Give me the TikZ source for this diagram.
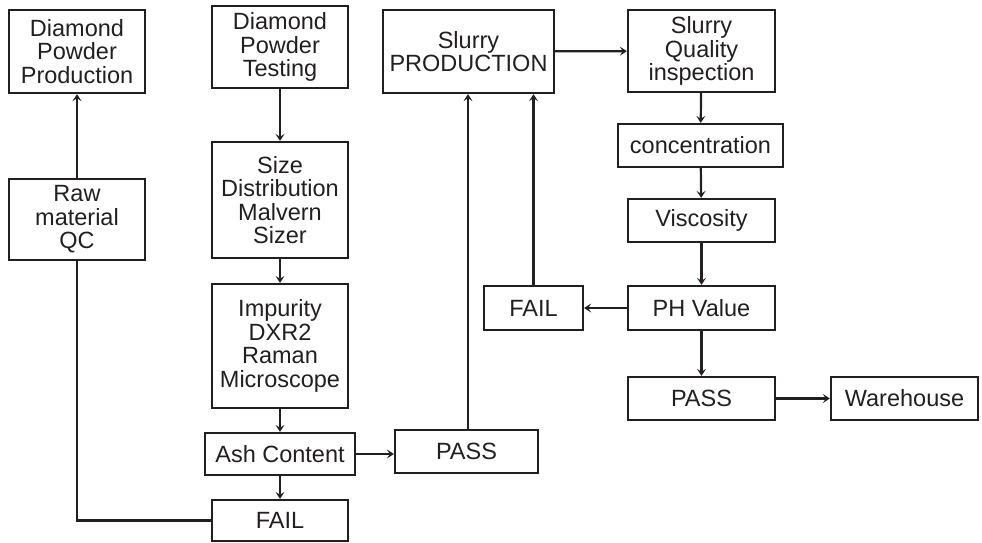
\documentclass[tikz,border=0pt]{standalone}
\usepackage{fontspec}
\setmainfont{Liberation Sans}
\usetikzlibrary{arrows.meta}
\definecolor{ink}{HTML}{231F20}
\begin{document}
\begin{tikzpicture}[x=1pt,y=-1pt,
  box/.style={draw=ink,line width=2.3pt,inner sep=0pt,align=center,text=ink,
    font=\fontsize{23.5}{23.5}\selectfont},
  conn/.style={draw=ink,line width=2.2pt},
  arr/.style={conn,-{Stealth[length=7pt,width=9pt,inset=3pt]}}]
\useasboundingbox (0,0) rectangle (982,542);
\newcommand\bx[6]{\node[box,minimum width={#4-#2-2},minimum height={#5-#3-2}] (#1) at ({(#2+#4)/2},{(#3+#5)/2}) {#6};}
\bx{dpp}{8}{9}{146}{94}{Diamond\\Powder\\Production}
\bx{raw}{8}{178}{146}{261}{Raw\\material\\QC}
\bx{dpt}{211}{5}{349}{89}{Diamond\\Powder\\Testing}
\bx{size}{211}{141}{349}{259}{Size\\Distribution\\Malvern\\Sizer}
\bx{imp}{211}{283}{349}{409}{Impurity\\DXR2\\Raman\\Microscope}
\bx{ash}{204}{432}{356}{476}{Ash Content}
\bx{failA}{211}{499}{349}{542}{FAIL}
\bx{passA}{394}{429}{539}{474}{PASS}
\bx{sp}{382}{9}{555}{94}{Slurry\\PRODUCTION}
\bx{sqi}{627}{9}{776}{93}{Slurry\\Quality\\inspection}
\bx{conc}{617}{123}{784}{168}{concentration}
\bx{visc}{627}{198}{776}{243}{Viscosity}
\bx{ph}{627}{285}{776}{331}{PH Value}
\bx{failB}{483}{285}{584}{331}{FAIL}
\bx{passB}{627}{376}{776}{421}{PASS}
\bx{wh}{830}{376}{979}{421}{Warehouse}
\draw[arr] (raw) -- (dpp);
\draw[arr] (dpt) -- (size);
\draw[arr] (size) -- (imp);
\draw[arr] (imp) -- (ash);
\draw[arr] (ash) -- (failA);
\draw[conn] (failA.west) -| (raw.south);
\draw[arr] (ash.east) -- (ash.east -| passA.west);
\draw[arr] ([xshift=1.5pt]passA.north) -- ([xshift=1.5pt]passA.north |- sp.south);
\draw[arr] (failB.north) -- (failB.north |- sp.south);
\draw[arr] (sp) -- (sqi);
\draw[arr] (sqi) -- (conc);
\draw[arr] (conc) -- (visc);
\draw[arr] (visc) -- (ph);
\draw[arr] (ph) -- (failB);
\draw[arr] (ph) -- (passB);
\draw[arr] (passB) -- (wh);
\end{tikzpicture}
\end{document}
